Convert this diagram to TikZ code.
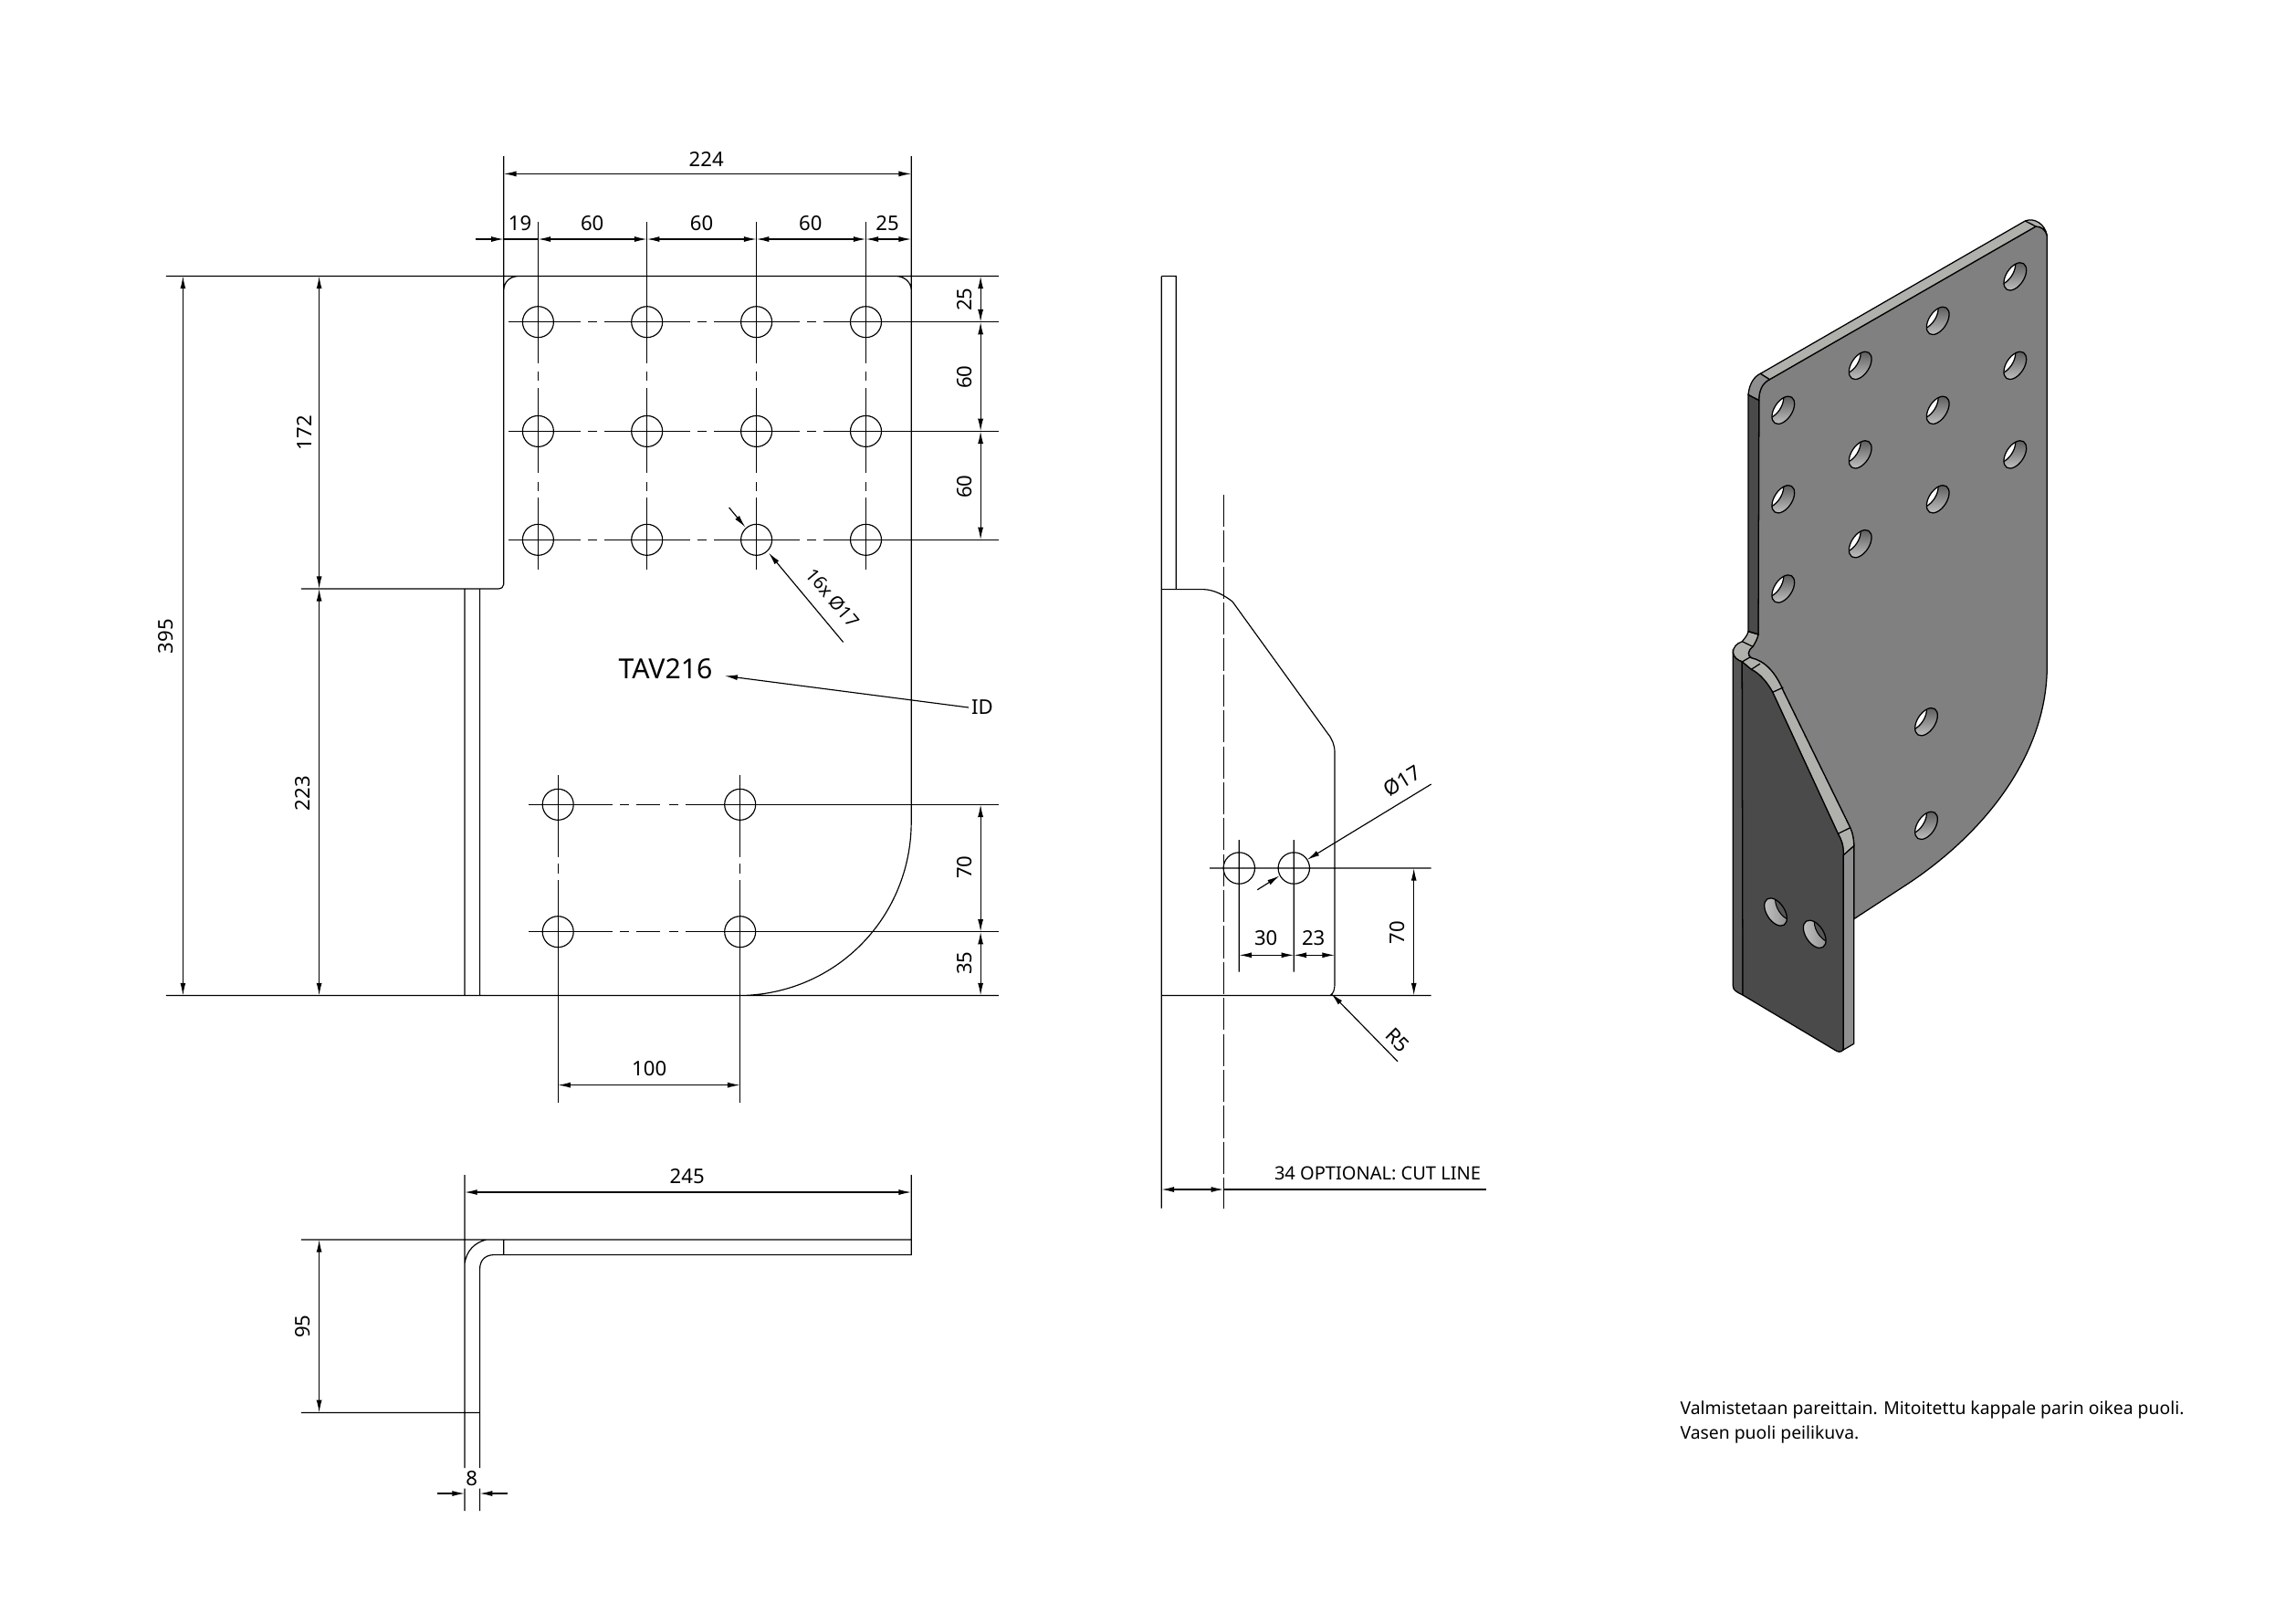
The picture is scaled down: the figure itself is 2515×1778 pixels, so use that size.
\documentclass[tikz,border=0pt]{standalone}
\usepackage{fontspec}
\setmainfont{Noto Sans}
\usetikzlibrary{arrows.meta}
\definecolor{plategray}{HTML}{808080}
\definecolor{stripgray}{HTML}{B0B0AC}
\definecolor{sidegray}{HTML}{8F8F8F}
\definecolor{darkgray}{HTML}{4A4A4A}
\definecolor{bandgray}{HTML}{565656}
\definecolor{holedark}{HTML}{4F4F4F}
\definecolor{holelight}{HTML}{CFCFCF}

% holes of the iso view, front plate and dark flange
\newcommand{\platehole}[2]{
  \begin{scope}
    \clip[shift={(#1,#2)},rotate=57] (0,0) ellipse [x radius=16.9,y radius=9.8];
    \fill[top color=holedark,bottom color=holelight] (#1-20,#2-20) rectangle (#1+20,#2+20);
    \fill[white,shift={(#1-12,#2-6)},rotate=57] (0,0) ellipse [x radius=16.9,y radius=9.8];
    \draw[iso,shift={(#1-12,#2-6)},rotate=57] (0,0) ellipse [x radius=16.9,y radius=9.8];
  \end{scope}
  \draw[iso,shift={(#1,#2)},rotate=57] (0,0) ellipse [x radius=16.9,y radius=9.8];
}
\newcommand{\flangehole}[2]{
  \begin{scope}
    \clip[shift={(#1,#2)},rotate=-57] (0,0) ellipse [x radius=16.9,y radius=9.8];
    \fill[left color=holelight,right color=holedark!70!white] (#1-20,#2-20) rectangle (#1+20,#2+20);
    \fill[bandgray,shift={(#1+12,#2-6)},rotate=-57] (0,0) ellipse [x radius=16.9,y radius=9.8];
    \draw[iso,line width=.3pt,shift={(#1+12,#2-6)},rotate=-57] (0,0) ellipse [x radius=16.9,y radius=9.8];
  \end{scope}
  \draw[iso,shift={(#1,#2)},rotate=-57] (0,0) ellipse [x radius=16.9,y radius=9.8];
}

\begin{document}
\begin{tikzpicture}[x=0.01cm,y=-0.01cm,line width=.33pt,>={Latex[length=3.9pt,width=1.7pt]},
    iso/.style={line width=.36pt,black},
    dimtext/.style={font=\fontsize{6.3}{7.6}\selectfont,inner sep=0pt},
    smalltext/.style={font=\fontsize{5.7}{7.6}\selectfont,inner sep=0pt},
    notetext/.style={font=\fontsize{5.5}{7.6}\selectfont,inner sep=0pt},
    bigtext/.style={font=\fontsize{8.6}{10}\selectfont,inner sep=0pt}]
\useasboundingbox (0,0) rectangle (2515,1778);

% front view, outline and extension lines
\draw (181.9,302.5) -- (1093.9,302.5)
    (181.9,1090.5) -- (1093.9,1090.5)
    (551.8,171) -- (551.8,318) (551.8,318) .. controls (552,309) and (558,303) .. (567.7,302.5)
    (551.8,318) -- (551.8,640) .. controls (551.8,643) and (549,645) .. (545.4,645) -- (329.8,645)
    (998.2,171) -- (998.2,900) .. controls (998.2,1004) and (917,1088) .. (813,1090.5)
    (982,302.5) .. controls (991,303) and (998,309) .. (998.2,318)
    (509,645) -- (509,1090.5)
    (525.6,645) -- (525.6,1090.5);

% hole pattern
\foreach \hx in {589.4,708.7,828.6,948.5}{
  \draw (\hx,243) -- (\hx,398.3) (\hx,407) -- (\hx,417) (\hx,425) -- (\hx,518.3)
        (\hx,527.7) -- (\hx,537.7) (\hx,545) -- (\hx,623.5);
  \foreach \hy in {352.7,472.4,591.3}
    \draw (\hx,\hy) circle [radius=17];
}
\foreach \hy in {352.7,472.4,591.3}
  \draw (557.3,\hy) -- (636,\hy) (644,\hy) -- (654,\hy) (662,\hy) -- (756,\hy)
        (764,\hy) -- (774,\hy) (782,\hy) -- (876,\hy) (884,\hy) -- (894,\hy) (902,\hy) -- (1093.9,\hy);
\foreach \hx in {611.2,810.7}{
  \draw (\hx,849) -- (\hx,939) (\hx,946) -- (\hx,956.7) (\hx,964) -- (\hx,1207.6);
  \foreach \hy in {881.3,1020.7}
    \draw (\hx,\hy) circle [radius=17];
}
\foreach \hy in {881.3,1020.7}
  \draw (579.3,\hy) -- (670.7,\hy) (679.3,\hy) -- (689.3,\hy) (696.7,\hy) -- (722.7,\hy)
        (733.3,\hy) -- (743.3,\hy) (751,\hy) -- (1093.9,\hy);

% front view, dimensions
\draw[<->] (551.8,190.4) -- (998.2,190.4);
\draw[->] (521.2,262) -- (551.8,262);
\draw (551.8,262) -- (589.4,262);
\draw[<->] (589.4,262) -- (708.7,262);
\draw[<->] (708.7,262) -- (828.6,262);
\draw[<->] (828.6,262) -- (948.5,262);
\draw[<->] (948.5,262) -- (998.2,262);
\draw[<->] (200.4,302.5) -- (200.4,1090.5);
\draw[<->] (349.6,302.5) -- (349.6,645);
\draw[<->] (349.6,645) -- (349.6,1090.5);
\draw[<->] (1074.1,302.5) -- (1074.1,352.7);
\draw[<->] (1074.1,352.7) -- (1074.1,472.4);
\draw[<->] (1074.1,472.4) -- (1074.1,591.3);
\draw[<->] (1074.1,881.3) -- (1074.1,1020.7);
\draw[<->] (1074.1,1020.7) -- (1074.1,1090.5);
\draw[<->] (611.2,1188.6) -- (810.7,1188.6);
\draw[->] (798.6,556) -- (816.4,577.5);
\draw[->] (923.6,703.4) -- (842,605.6);
\draw[->] (1061,775) -- (794.1,740.4);

\node[dimtext] (dimWidth) at (773.7,174) {224};
\node[dimtext] (dimEdgeA) at (569.6,245) {19};
\node[dimtext] (dimPitchA) at (648.7,245) {60};
\node[dimtext] (dimPitchB) at (768.6,245) {60};
\node[dimtext] (dimPitchC) at (887.9,245) {60};
\node[dimtext] (dimEdgeB) at (972,245) {25};
\node[dimtext,rotate=90] (dimTotal) at (181.9,697) {395};
\node[dimtext,rotate=90] (dimUpper) at (333,474) {172};
\node[dimtext,rotate=90] (dimLower) at (331.8,869) {223};
\node[dimtext,rotate=90] (dimRowA) at (1056.9,328) {25};
\node[dimtext,rotate=90] (dimRowB) at (1056.9,413) {60};
\node[dimtext,rotate=90] (dimRowC) at (1056.9,533) {60};
\node[dimtext,rotate=90] (dimRowD) at (1056.9,950) {70};
\node[dimtext,rotate=90] (dimRowE) at (1056.9,1055) {35};
\node[dimtext] (dimHoles) at (711.2,1171) {100};
\node[smalltext,rotate=-50] (holeNote) at (912,655) {16x Ø17};
\node[bigtext] (partId) at (729,733) {TAV216};
\node[dimtext] (idNote) at (1076,775) {ID};

% lower view
\draw (329.8,1358) -- (998.2,1358)
    (551.8,1358) -- (551.8,1374.6)
    (998.2,1287) -- (998.2,1374.6) -- (540.3,1374.6)
    .. controls (531,1375) and (525.6,1381) .. (525.6,1390) -- (525.6,1608)
    (509,1287) -- (509,1608)
    (509,1384) .. controls (511,1370) and (520,1361) .. (532.7,1358)
    (329.8,1547.4) -- (525.6,1547.4)
    (509,1630.6) -- (509,1655)
    (525.6,1630.6) -- (525.6,1655);
\draw[<->] (509,1306) -- (998.2,1306);
\draw[<->] (349.6,1358) -- (349.6,1547.4);
\draw[->] (479,1636) -- (509,1636);
\draw[->] (556.2,1636) -- (525.6,1636);
\node[dimtext] (dimLength) at (752.7,1289) {245};
\node[dimtext,rotate=90] (dimDepth) at (331.8,1453) {95};
\node[dimtext] (dimThick) at (516.7,1620) {8};

% side view
\draw (1272.3,302.5) -- (1288.3,302.5) -- (1288.3,645.6)
    (1272.3,302.5) -- (1272.3,1323.5)
    (1272.3,645.6) -- (1318.3,645.6) .. controls (1330,646) and (1341,652) .. (1350,659)
    -- (1454,803) .. controls (1459,809) and (1462,816) .. (1462,824)
    -- (1462,1076.5) .. controls (1462,1084) and (1461,1088) .. (1457,1090.5)
    (1272.3,1090.5) -- (1567.7,1090.5)
    (1325,951) -- (1567.7,951)
    (1357.3,920) -- (1357.3,1064.5)
    (1417.3,920) -- (1417.3,1064.5)
    (1357.3,951) circle [radius=17.2]
    (1417.3,951) circle [radius=17.2];
\draw[dash pattern=on 10pt off 1.2pt,line width=.35pt] (1340.3,541.8) -- (1340.3,1323.5);
\draw[<->] (1357.3,1046.3) -- (1417.3,1046.3);
\draw[<->] (1417.3,1046.3) -- (1462,1046.3);
\draw[<->] (1548.7,951) -- (1548.7,1090.5);
\draw[<->] (1272.3,1303) -- (1340.3,1303);
\draw (1340.3,1303) -- (1628,1303);
\draw[->] (1567.7,859) -- (1431.7,941.8);
\draw[->] (1377.3,974.7) -- (1401.7,959.3);
\draw[->] (1531,1162.8) -- (1458.3,1088.4);
\node[dimtext] (dimCentre) at (1386.7,1028) {30};
\node[dimtext] (dimEdge) at (1438.7,1028) {23};
\node[dimtext,rotate=90] (dimHeight) at (1530.7,1021.7) {70};
\node[dimtext,rotate=31] (holeSize) at (1535.7,855.4) {Ø17};
\node[dimtext,rotate=-45] (bendRad) at (1531,1139.6) {R5};
\node[smalltext] (cutNote) at (1509,1285.6) {34 OPTIONAL: CUT LINE};

% iso view, plate
\draw[iso,fill=plategray] (2242.3,258) .. controls (2241,252) and (2236,248) .. (2230,248)
    -- (1938.3,415.7) .. controls (1930,420) and (1926.7,428) .. (1926.7,438.6)
    -- (1926,695) .. controls (1925,700) and (1922,705) .. (1920,708.3)
    .. controls (1914,713) and (1914,718) .. (1918.3,720.7)
    .. controls (1933.3,724) and (1945,736.7) .. (1953.3,756.7)
    -- (2026.7,906.7) .. controls (2029,912) and (2030.7,918) .. (2030.7,926.7)
    -- (2030.7,1006.7) -- (2090,968) .. controls (2170,915) and (2242,830) .. (2242.3,730) -- cycle;
\draw[iso,fill=stripgray] (1928.3,409.3) -- (2218.3,242) .. controls (2228,238) and (2240,245) .. (2242.3,258)
    .. controls (2241,252) and (2236,248) .. (2230,248) -- (1938.3,415.7) -- cycle;
\draw[iso] (2218.3,242) -- (2230,248);
\draw[iso,fill=sidegray] (1915,432.5) .. controls (1916,420) and (1922,412) .. (1928.3,409.3) -- (1938.3,415.7)
    .. controls (1930,420) and (1926.7,428) .. (1926.7,438.6) -- cycle;
\draw[iso,fill=darkgray] (1915,432.5) -- (1926.7,438.6) -- (1926,695) -- (1915,691.7) -- cycle;
\foreach \hx/\hy in {1953.3/449.3,1953.3/546.8,1953.3/645,2037.7/400.4,2037.7/497.9,2037.7/595.7,
    2122.7/351.4,2122.7/449.3,2122.7/546.8,2207.3/302.9,2207.3/400.4,2207.3/497.9,2110/790.7,2110/904.3}{
  \platehole{\hx}{\hy}
}

% iso view, flange
\draw[iso,fill=stripgray] (1915,691.7) .. controls (1914,696) and (1912,698) .. (1908.3,702.7)
    .. controls (1902,705) and (1898.3,709) .. (1898.3,715) .. controls (1899,720) and (1903,723) .. (1908.3,725)
    -- (1918.3,733.3) .. controls (1928,738) and (1936,748) .. (1941.7,758.3)
    -- (2013.3,913.3) .. controls (2017,920) and (2019.3,925) .. (2019.3,936.7)
    -- (2030.7,926.7) .. controls (2030.7,918) and (2029,912) .. (2026.7,906.7)
    -- (1953.3,756.7) .. controls (1945,736.7) and (1933.3,724) .. (1918.3,720.7)
    .. controls (1914,718) and (1914,713) .. (1920,708.3)
    .. controls (1922,705) and (1925,700) .. (1926,695) -- cycle;
\draw[iso,fill=bandgray] (1898.3,715) .. controls (1899,720) and (1903,723) .. (1908.3,725)
    -- (1909,1090) .. controls (1903,1087) and (1898.3,1085) .. (1898.3,1080) -- cycle;
\draw[iso,fill=darkgray] (1908.3,725) -- (1918.3,733.3) .. controls (1928,738) and (1936,748) .. (1941.7,758.3)
    -- (2013.3,913.3) .. controls (2017,920) and (2019.3,925) .. (2019.3,936.7)
    -- (2019.3,1148) .. controls (2019.3,1152) and (2015,1153) .. (2012,1151.5) -- (1909,1090) -- cycle;
\draw[iso,fill=sidegray] (2019.3,936.7) -- (2030.7,926.7) -- (2030.7,1143.3) -- (2019.3,1150) -- cycle;
\draw[iso] (1915,691.7) -- (1926,695)
    (1908.3,702.7) -- (1920,708.3)
    (1908.3,725) -- (1916.7,720)
    (1918.3,733.3) -- (1928,727)
    (1941.7,758.3) -- (1953.3,753)
    (2013.3,913.3) -- (2026.7,906.7);
\flangehole{1945}{999}
\flangehole{1987.7}{1023.3}

% note
\node[notetext,anchor=west,align=left] (prodNote) at (1840,1558)
  {Valmistetaan pareittain. Mitoitettu kappale parin oikea puoli.\\Vasen puoli peilikuva.};
\end{tikzpicture}
\end{document}
